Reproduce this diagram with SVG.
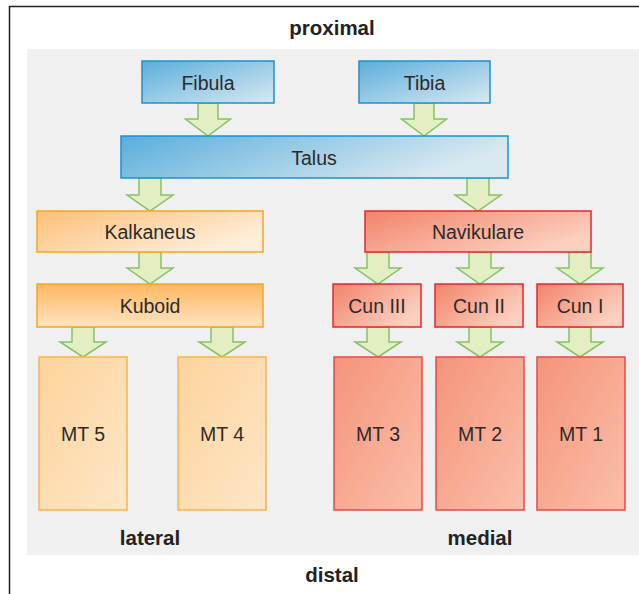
<svg xmlns="http://www.w3.org/2000/svg" width="639" height="594" viewBox="0 0 639 594">
<defs>
<linearGradient id="gBlue" x1="0" y1="0" x2="1" y2="1"><stop offset="0" stop-color="#5aaedb"/><stop offset="1" stop-color="#d9e9f1"/></linearGradient>
<linearGradient id="gBlueW" x1="0" y1="0" x2="1" y2="0.3"><stop offset="0" stop-color="#5aaedb"/><stop offset="1" stop-color="#d9e9f1"/></linearGradient>
<linearGradient id="gOr" x1="0" y1="0" x2="1" y2="0.6"><stop offset="0" stop-color="#fdbf77"/><stop offset="1" stop-color="#ffeedb"/></linearGradient>
<linearGradient id="gOrV" x1="0" y1="0" x2="0" y2="1"><stop offset="0" stop-color="#fdb761"/><stop offset="1" stop-color="#fee4c2"/></linearGradient>
<linearGradient id="gOrL" x1="0" y1="0" x2="1" y2="1"><stop offset="0" stop-color="#fdd39c"/><stop offset="1" stop-color="#fee6c6"/></linearGradient>
<linearGradient id="gRed" x1="0" y1="0" x2="1" y2="0.6"><stop offset="0" stop-color="#f2836a"/><stop offset="1" stop-color="#fcd0bf"/></linearGradient>
<linearGradient id="gRedL" x1="0" y1="0" x2="1" y2="1"><stop offset="0" stop-color="#f4947a"/><stop offset="1" stop-color="#fbbfa9"/></linearGradient>
</defs>
<style>
.blue{stroke:#1b91cd;stroke-width:1.5}
.or{stroke:#f8a51c;stroke-width:1.5}
.orl{stroke:#f9b448;stroke-width:1.5}
.red{stroke:#e8262b;stroke-width:1.5}
.redl{stroke:#e84848;stroke-width:1.5}
.lbl{font-family:"Liberation Sans",Arial,sans-serif;font-size:19.5px;fill:#2b2b2b;text-anchor:middle}
.hd{font-family:"Liberation Sans",Arial,sans-serif;font-size:20.5px;font-weight:bold;fill:#222;text-anchor:middle}
.arr{fill:#e3efc3;stroke:#86c266;stroke-width:1.5;stroke-linejoin:miter}
</style>
<rect x="0" y="0" width="639" height="594" fill="#fff"/>
<path d="M9.5 594 V6.5 H639" fill="none" stroke="#222" stroke-width="1.5"/>
<rect x="27" y="49" width="612" height="506" fill="#f0f0f0"/>
<text class="hd" x="332" y="35">proximal</text>
<text class="hd" x="332" y="582">distal</text>
<text class="hd" x="150" y="545">lateral</text>
<text class="hd" x="480" y="545">medial</text>

<g id="connectors">
<path class="arr" d="M198 103 V119 H185.5 L208 136 L230.5 119 H218 V103 Z"/>
<path class="arr" d="M414 103 V119 H401.5 L424 136 L446.5 119 H434 V103 Z"/>
<path class="arr" d="M139 178 V195 H127 L150 211 L173 195 H161 V178 Z"/>
<path class="arr" d="M467 178 V195 H455 L478 211 L501 195 H489 V178 Z"/>
<path class="arr" d="M139 252 V268 H127 L150 284 L173 268 H161 V252 Z"/>
<path class="arr" d="M72 327 V342 H60 L83 357 L106 342 H94 V327 Z"/>
<path class="arr" d="M211 327 V342 H199 L222 357 L245 342 H233 V327 Z"/>
<path class="arr" d="M367 252 V268 H355 L378 284 L401 268 H389 V252 Z"/>
<path class="arr" d="M469 252 V268 H457 L480 284 L503 268 H491 V252 Z"/>
<path class="arr" d="M569 252 V268 H557 L580 284 L603 268 H591 V252 Z"/>
<path class="arr" d="M367 327 V342 H355 L378 357 L401 342 H389 V327 Z"/>
<path class="arr" d="M469 327 V342 H457 L480 357 L503 342 H491 V327 Z"/>
<path class="arr" d="M569 327 V342 H557 L580 357 L603 342 H591 V327 Z"/>
</g>

<g id="fibula"><rect class="blue" x="142" y="61" width="132" height="42" fill="url(#gBlue)"/><text class="lbl" x="208" y="89.5">Fibula</text></g>
<g id="tibia"><rect class="blue" x="359" y="61" width="131" height="42" fill="url(#gBlue)"/><text class="lbl" x="424.5" y="89.5">Tibia</text></g>
<g id="talus"><rect class="blue" x="121" y="136" width="387" height="42" fill="url(#gBlueW)"/><text class="lbl" x="314" y="164.5">Talus</text></g>
<g id="kalkaneus"><rect class="or" x="37" y="211" width="226" height="41" fill="url(#gOr)"/><text class="lbl" x="150" y="238.5">Kalkaneus</text></g>
<g id="navikulare"><rect class="red" x="365" y="211" width="226" height="41" fill="url(#gRed)"/><text class="lbl" x="478" y="238.5">Navikulare</text></g>
<g id="kuboid"><rect class="or" x="37" y="284" width="226" height="43" fill="url(#gOrV)"/><text class="lbl" x="150" y="312.5">Kuboid</text></g>
<g id="cun3"><rect class="red" x="333" y="284" width="88" height="43" fill="url(#gRed)"/><text class="lbl" x="377" y="312.5">Cun III</text></g>
<g id="cun2"><rect class="red" x="435" y="284" width="88" height="43" fill="url(#gRed)"/><text class="lbl" x="479" y="312.5">Cun II</text></g>
<g id="cun1"><rect class="red" x="537" y="284" width="86" height="43" fill="url(#gRed)"/><text class="lbl" x="580" y="312.5">Cun I</text></g>
<g id="mt5"><rect class="orl" x="39" y="357" width="88" height="153" fill="url(#gOrL)"/><text class="lbl" x="83" y="440.5">MT 5</text></g>
<g id="mt4"><rect class="orl" x="178" y="357" width="88" height="153" fill="url(#gOrL)"/><text class="lbl" x="222" y="440.5">MT 4</text></g>
<g id="mt3"><rect class="redl" x="334" y="357" width="88" height="153" fill="url(#gRedL)"/><text class="lbl" x="378" y="440.5">MT 3</text></g>
<g id="mt2"><rect class="redl" x="436" y="357" width="88" height="153" fill="url(#gRedL)"/><text class="lbl" x="480" y="440.5">MT 2</text></g>
<g id="mt1"><rect class="redl" x="537" y="357" width="88" height="153" fill="url(#gRedL)"/><text class="lbl" x="581" y="440.5">MT 1</text></g>
</svg>
